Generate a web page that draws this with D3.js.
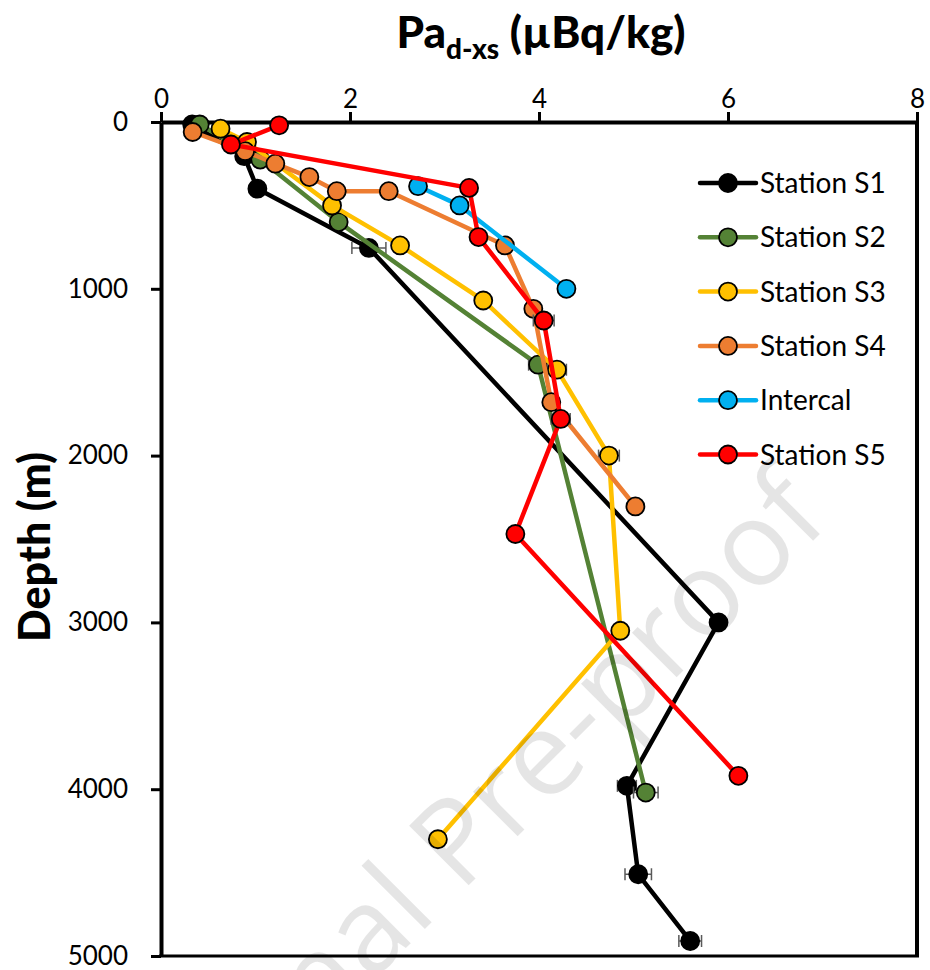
<!DOCTYPE html>
<html>
<head>
<meta charset="utf-8">
<script src="https://cdn.jsdelivr.net/npm/d3@7"></script>
<style>
body { margin: 0; background: #fff; }
svg { display: block; }
</style>
</head>
<body>
<script>
// series names and colours
var seriesNames = ["Station S1", "Station S2", "Station S3", "Station S4", "Intercal", "Station S5"];
var seriesColors = ["#000000", "#548235", "#FFC000", "#ED7D31", "#00B0F0", "#FF0000"];

// Pa values (uBq/kg) and depths (m)
var s1Pa = [0.33, 0.88, 1.02, 2.2, 5.9, 4.93, 5.05, 5.6];
var s1Depth = [15, 205, 400, 755, 3000, 3980, 4510, 4910];
var s1Err = [0, 0, 0, 0.18, 0, 0.1, 0.14, 0.12];

var s2Pa = [0.41, 1.05, 1.88, 3.99, 5.13];
var s2Depth = [15, 225, 600, 1455, 4020];
var s2Err = [0, 0, 0, 0.1, 0.13];

var s3Pa = [0.63, 0.91, 1.81, 2.53, 3.41, 4.19, 4.74, 4.86, 2.93];
var s3Depth = [40, 120, 500, 740, 1070, 1485, 2000, 3050, 4300];
var s3Err = [0, 0, 0, 0, 0, 0.1, 0.11, 0, 0];

var s4Pa = [0.335, 0.89, 1.21, 1.57, 1.86, 2.41, 3.64, 3.94, 4.13, 5.02];
var s4Depth = [60, 175, 250, 330, 415, 415, 740, 1120, 1680, 2305];
var s4Err = [0, 0, 0, 0, 0, 0, 0, 0, 0, 0];

var intPa = [2.72, 3.16, 4.29];
var intDepth = [385, 500, 1000];
var intErr = [0, 0, 0];

var s5Pa = [1.25, 0.74, 3.26, 3.36, 4.05, 4.23, 3.75, 6.11];
var s5Depth = [20, 135, 395, 690, 1190, 1780, 2470, 3920];
var s5Err = [0, 0, 0, 0, 0.11, 0.1, 0, 0];

var xTicks = [0, 2, 4, 6, 8];
var yTicks = [0, 1000, 2000, 3000, 4000, 5000];

var allPa = [s1Pa, s2Pa, s3Pa, s4Pa, intPa, s5Pa];
var allDepth = [s1Depth, s2Depth, s3Depth, s4Depth, intDepth, s5Depth];
var allErr = [s1Err, s2Err, s3Err, s4Err, intErr, s5Err];

var width = 930, height = 970;
// plot box (window.top is reserved, so use other names)
var plotL = 161, plotR = 917, plotT = 122, plotB = 956;

var svg = d3.select("body").append("svg")
    .attr("width", width)
    .attr("height", height);

var x = d3.scaleLinear().domain([0, 8]).range([plotL, plotR]);
var y = d3.scaleLinear().domain([0, 5000]).range([plotT, plotB]);

var tickFont = "Lato, 'Open Sans', sans-serif";

// top axis
var xAxis = svg.append("g")
    .attr("transform", "translate(0," + plotT + ")")
    .call(d3.axisTop(x).tickValues(xTicks).tickFormat(d3.format("d")).tickSize(10).tickSizeOuter(0).tickPadding(4));
// left axis
var yAxis = svg.append("g")
    .attr("transform", "translate(" + plotL + ",0)")
    .call(d3.axisLeft(y).tickValues(yTicks).tickFormat(d3.format("d")).tickSize(10).tickSizeOuter(0).tickPadding(23));

[xAxis, yAxis].forEach(function(a) {
    a.select(".domain").attr("stroke", "#000").attr("stroke-width", 4);
    a.selectAll(".tick line").attr("stroke", "#000").attr("stroke-width", 3);
    a.selectAll(".tick text").attr("fill", "#000")
        .style("font-family", tickFont).style("font-size", "26px");
});

// right and bottom frame
svg.append("line").attr("x1", plotR).attr("x2", plotR).attr("y1", plotT).attr("y2", plotB)
    .attr("stroke", "#000").attr("stroke-width", 4);
svg.append("line").attr("x1", plotL - 2).attr("x2", plotR + 2).attr("y1", plotB).attr("y2", plotB)
    .attr("stroke", "#000").attr("stroke-width", 3);

// axis titles
var title = svg.append("text")
    .attr("x", 541).attr("y", 48)
    .attr("text-anchor", "middle")
    .style("font-family", tickFont).style("font-weight", "900").style("font-size", "44px");
title.append("tspan").text("Pa");
title.append("tspan").attr("dy", 11).style("font-size", "28px").text("d-xs");
title.append("tspan").attr("dy", -11).text(" (\u00B5Bq/kg)");

svg.append("text")
    .attr("transform", "translate(50,547) rotate(-90)")
    .attr("text-anchor", "middle")
    .style("font-family", tickFont).style("font-weight", "900").style("font-size", "43px")
    .text("Depth (m)");

var line = d3.line();

// draw each series: line, error bars, markers
function drawSeries(i) {
    var pa = allPa[i], dep = allDepth[i], err = allErr[i];
    var pts = pa.map(function(v, k) { return [x(v), y(dep[k])]; });
    var g = svg.append("g");
    g.append("path")
        .attr("d", line(pts))
        .attr("fill", "none")
        .attr("stroke", seriesColors[i])
        .attr("stroke-width", 4.5)
        .attr("stroke-linejoin", "round");
    for (var k = 0; k < pa.length; k++) {
        if (err[k] > 0) {
            var yy = y(dep[k]);
            var x0 = x(pa[k] - err[k]), x1 = x(pa[k] + err[k]);
            g.append("line").attr("x1", x0).attr("x2", x1).attr("y1", yy).attr("y2", yy)
                .attr("stroke", "#595959").attr("stroke-width", 1.5);
            [x0, x1].forEach(function(xc) {
                g.append("line").attr("x1", xc).attr("x2", xc).attr("y1", yy - 6).attr("y2", yy + 6)
                    .attr("stroke", "#595959").attr("stroke-width", 1.5);
            });
        }
    }
    g.selectAll("circle").data(pts).enter().append("circle")
        .attr("cx", function(d) { return d[0]; })
        .attr("cy", function(d) { return d[1]; })
        .attr("r", 9)
        .attr("fill", seriesColors[i])
        .attr("stroke", "#000")
        .attr("stroke-width", 1.8);
}
for (var i = 0; i < seriesNames.length; i++) drawSeries(i);

// legend
var legend = svg.append("g");
seriesNames.forEach(function(name, i) {
    var ly = 183 + i * 54.3;
    legend.append("line").attr("x1", 700).attr("x2", 756).attr("y1", ly).attr("y2", ly)
        .attr("stroke", seriesColors[i]).attr("stroke-width", 4.5).attr("stroke-linecap", "round");
    legend.append("circle").attr("cx", 728).attr("cy", ly).attr("r", 9)
        .attr("fill", seriesColors[i]).attr("stroke", "#000").attr("stroke-width", 1.8);
    legend.append("text").attr("x", 760).attr("y", ly).attr("dy", "0.36em")
        .style("font-family", tickFont).style("font-size", "28px")
        .text(name);
});

// watermark
svg.append("text")
    .attr("transform", "translate(832,522) rotate(-45)")
    .attr("text-anchor", "end")
    .style("font-family", "'Open Sans', sans-serif").style("font-size", "118px")
    .attr("fill", "#000").attr("fill-opacity", 0.1)
    .style("pointer-events", "none")
    .text("Journal Pre-proof");
</script>
</body>
</html>
